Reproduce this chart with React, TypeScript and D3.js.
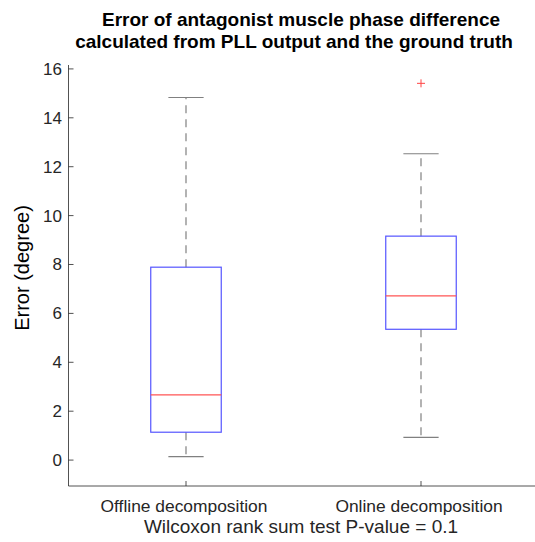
import React from "react";
import * as d3 from "d3";

const categories = ["Offline decomposition", "Online decomposition"];
const whiskerLow = [0.14, 0.93];
const q1 = [1.14, 5.35];
const median = [2.67, 6.72];
const q3 = [7.89, 9.16];
const whiskerHigh = [14.83, 12.53];
const outliers: number[][] = [[], [15.41]];
const yTicks = [0, 2, 4, 6, 8, 10, 12, 14, 16];

const W = 535;
const H = 542;
const left = 68.5;
const right = 538.5;
const top = 65;
const bottom = 486;

export default function App() {
  const x = d3.scaleLinear().domain([0.5, 2.5]).range([left, right]);
  const y = d3.scaleLinear().domain([-1.06, 16.16]).range([bottom, top]);
  const bw = 0.3;
  const font = "'Liberation Sans', Arial, Helvetica, sans-serif";
  const axisColor = "#262626";
  const gray = "#808080";
  return (
    <svg
      width={W}
      height={H}
      style={{ position: "absolute", left: 0, top: 0, background: "#fff" }}
      fontFamily={font}
    >
      <rect width={W} height={H} fill="#fff" />
      <text x={301} y={25.5} textAnchor="middle" fontSize={19} fontWeight="bold" fill="#000">
        Error of antagonist muscle phase difference
      </text>
      <text x={294} y={48} textAnchor="middle" fontSize={19} fontWeight="bold" fill="#000">
        calculated from PLL output and the ground truth
      </text>
      {/* axes */}
      <line x1={left} x2={left} y1={top} y2={bottom} stroke={axisColor} strokeWidth={0.8} />
      <line x1={left} x2={right} y1={bottom} y2={bottom} stroke={axisColor} strokeWidth={0.8} />
      {yTicks.map((t) => (
        <g key={t}>
          <line x1={left} x2={left + 5} y1={y(t)} y2={y(t)} stroke={axisColor} strokeWidth={0.8} />
          <text x={left - 6.5} y={y(t) + 6} textAnchor="end" fontSize={17} fill={axisColor}>
            {t}
          </text>
        </g>
      ))}
      {categories.map((c, i) => (
        <g key={c}>
          <line x1={x(i + 1)} x2={x(i + 1)} y1={bottom} y2={bottom - 5} stroke={axisColor} strokeWidth={0.8} />
          <text x={x(i + 1) - 2} y={511.5} textAnchor="middle" fontSize={17.4} fill={axisColor}>
            {c}
          </text>
        </g>
      ))}
      <text
        transform={`translate(29, 268) rotate(-90)`}
        textAnchor="middle"
        fontSize={20}
        fill="#000"
      >
        Error (degree)
      </text>
      <text x={301} y={533} textAnchor="middle" fontSize={19} fill={axisColor}>
        Wilcoxon rank sum test P-value = 0.1
      </text>
      {/* boxes */}
      {categories.map((c, i) => {
        const cx = x(i + 1);
        const x0 = x(i + 1 - bw / 2);
        const x1 = x(i + 1 + bw / 2);
        const capHalf = (x1 - x0) / 4;
        return (
          <g key={"b" + c}>
            <line x1={cx} x2={cx} y1={y(q3[i])} y2={y(whiskerHigh[i])} stroke={gray} strokeWidth={1.2} strokeDasharray="8,6" />
            <line x1={cx} x2={cx} y1={y(q1[i])} y2={y(whiskerLow[i])} stroke={gray} strokeWidth={1.2} strokeDasharray="8,6" />
            <line x1={cx - capHalf} x2={cx + capHalf} y1={y(whiskerHigh[i])} y2={y(whiskerHigh[i])} stroke={gray} strokeWidth={1.2} />
            <line x1={cx - capHalf} x2={cx + capHalf} y1={y(whiskerLow[i])} y2={y(whiskerLow[i])} stroke={gray} strokeWidth={1.2} />
            <rect x={x0} y={y(q3[i])} width={x1 - x0} height={y(q1[i]) - y(q3[i])} fill="none" stroke="#5555ff" strokeWidth={1.2} />
            <line x1={x0} x2={x1} y1={y(median[i])} y2={y(median[i])} stroke="#ff5555" strokeWidth={1.2} />
            {outliers[i].map((o, k) => (
              <g key={k} stroke="#ff4444" strokeWidth={1}>
                <line x1={cx - 4} x2={cx + 4} y1={y(o)} y2={y(o)} />
                <line x1={cx} x2={cx} y1={y(o) - 4} y2={y(o) + 4} />
              </g>
            ))}
          </g>
        );
      })}
    </svg>
  );
}
